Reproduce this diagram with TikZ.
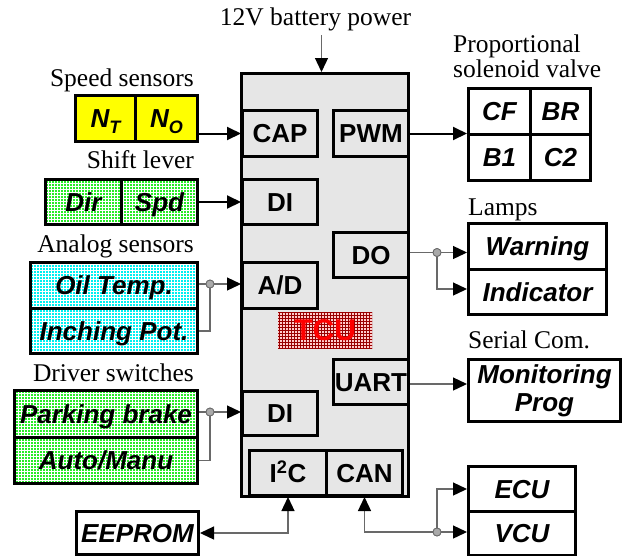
\documentclass[tikz,border=0pt]{standalone}
\usepackage{fontspec}
\setmainfont{Liberation Serif}
\setsansfont{Liberation Sans}
\usetikzlibrary{arrows.meta,patterns}
\definecolor{tcugray}{RGB}{230,230,230}
\definecolor{grn}{RGB}{40,235,40}
\definecolor{cyn}{RGB}{0,240,240}
\definecolor{yel}{RGB}{255,255,0}
\definecolor{lgray}{RGB}{105,105,105}
\definecolor{dotgray}{RGB}{170,170,170}
\begin{document}
\begin{tikzpicture}[x=1pt,y=-1pt,
  blk/.style={draw, line width=3pt, inner sep=0pt, anchor=north west, align=center,
    text height=18.7pt, text depth=0pt,
    font=\sffamily\bfseries\fontsize{26}{28}\selectfont},
  ext/.style={blk, font=\sffamily\bfseries\itshape\fontsize{26}{28}\selectfont},
  wbox/.style={ext, fill=white},
  intb/.style={blk, fill=tcugray},
  wh/.style 2 args={minimum width=#1pt, minimum height=#2pt},
  gpat/.style={preaction={fill=grn}, pattern=grid, pattern color=white},
  cpat/.style={preaction={fill=cyn}, pattern=grid, pattern color=white},
  lbl/.style={inner sep=0pt, font=\rmfamily\fontsize{25.5}{28}\selectfont},
  barrow/.style={draw=black, line width=2pt, -{Triangle[length=14pt,width=13pt,color=black]}},
  garrow/.style={draw=lgray, line width=1.3pt, -{Triangle[length=14pt,width=13pt,color=black]}},
  gline/.style={draw=lgray, line width=1.3pt},
  jdot/.style={circle, fill=dotgray, draw=lgray, line width=0.8pt, inner sep=0pt, minimum size=8pt}
]
\useasboundingbox (0,0) rectangle (626,555);

% TCU
\node[blk, fill=tcugray, wh={167}{423}] (tcu) at (240,72) {};
\node[intb, wh={75}{46}] (cap) at (241,109) {CAP};
\node[intb, wh={75}{46}] (pwm) at (332,109) {PWM};
\node[intb, wh={75}{45}] (di1) at (241,178) {DI};
\node[intb, wh={75}{45}] (do) at (332,231) {DO};
\node[intb, wh={75}{46}] (ad) at (241,261) {A/D};
\node[intb, wh={75}{45}] (uart) at (332,358) {UART};
\node[intb, wh={75}{44}] (di2) at (241,390) {DI};
\node[intb, wh={77}{45}] (i2c) at (248,449) {I\textsuperscript{2}C};
\node[intb, wh={76}{45}] (can) at (325,449) {CAN};
\node[anchor=north west, inner sep=0pt, wh={94}{36}, preaction={fill=red!20}, pattern=grid,
  pattern color=red!60!black, text=red, text height=21.5pt, text depth=0pt,
  font=\sffamily\bfseries\fontsize{30}{30}\selectfont]
  (tculbl) at (278,312) {TCU};

% battery
\node[lbl, anchor=base] (batt) at (315.5,25) {12V battery power};
\coordinate (pw) at (321.5,35);
\draw[garrow] (pw) -- (pw |- tcu.north);

% speed sensors
\node[lbl, anchor=base east] (lspd) at (194,86) {Speed sensors};
\node[ext, fill=yel, wh={60}{46}] (nt) at (74,94) {N\raisebox{-6pt}{\fontsize{18}{18}\selectfont T}};
\node[ext, fill=yel, wh={62}{46}] (no) at (134,94) {N\raisebox{-6pt}{\fontsize{18}{18}\selectfont O}};
\draw[barrow] (no.east |- cap.west) -- (cap.west);

% shift lever
\node[lbl, anchor=base east] (lshift) at (194,168) {Shift lever};
\node[ext, gpat, wh={76}{45}] (dir) at (44,178) {Dir};
\node[ext, gpat, wh={76}{45}] (spd) at (120,178) {Spd};
\draw[barrow] (spd.east |- di1.west) -- (di1.west);

% analog sensors
\node[lbl, anchor=base east] (lana) at (194,252.5) {Analog sensors};
\node[ext, cpat, wh={167}{46}] (oil) at (29,261) {Oil Temp.};
\node[ext, cpat, wh={167}{45}] (inch) at (29,307) {Inching Pot.};
\node[jdot] (d1) at (210,284) {};
\draw[gline] (oil.east |- d1) -- (d1);
\draw[garrow] (d1) -- (d1 -| ad.west);
\draw[gline] (inch.east) -| (d1);

% driver switches
\node[lbl, anchor=base east] (ldrv) at (194,381) {Driver switches};
\node[ext, gpat, wh={183}{47}] (park) at (13,389) {Parking brake};
\node[ext, gpat, wh={183}{46}] (auto) at (13,436) {Auto/Manu};
\node[jdot] (d2) at (210,412) {};
\draw[gline] (park.east |- d2) -- (d2);
\draw[garrow] (d2) -- (d2 -| di2.west);
\draw[gline] (auto.east) -| (d2);

% EEPROM
\node[wbox, wh={122}{43}] (eep) at (75,510) {EEPROM};
\draw[draw=lgray, line width=1.3pt, {Triangle[length=14pt,width=13pt,color=black]}-{Triangle[length=14pt,width=13pt,color=black]}]
  (i2c.south) |- (eep.east);

% solenoid valve
\node[lbl, anchor=base west] (lsol1) at (453,52) {Proportional};
\node[lbl, anchor=base west] (lsol2) at (453,77.5) {solenoid valve};
\node[wbox, wh={62}{46}] (cf) at (467,87) {CF};
\node[wbox, wh={60}{46}] (br) at (529,87) {BR};
\node[wbox, wh={62}{46}] (b1) at (467,133) {B1};
\node[wbox, wh={60}{46}] (c2) at (529,133) {C2};
\draw[barrow] (pwm.east) -- (pwm.east -| cf.west);

% lamps
\node[lbl, anchor=base west] (llamp) at (468,215) {Lamps};
\node[wbox, wh={138}{46}] (warn) at (467,222) {Warning};
\node[wbox, wh={138}{45}] (ind) at (467,268) {Indicator};
\node[jdot] (d3) at (437,252.5) {};
\draw[gline] (do.east |- d3) -- (d3);
\draw[garrow] (d3) -- (d3 -| warn.west);
\coordinate (d3b) at (437,289);
\draw[garrow] (d3) |- (d3b -| ind.west);

% serial
\node[lbl, anchor=base west] (lser) at (468,348.5) {Serial Com.};
\node[draw, line width=3pt, fill=white, inner sep=0pt, anchor=north west, wh={152}{62}] (mon) at (467,358) {};
\node[inner sep=0pt, align=center, font=\sffamily\bfseries\itshape\fontsize{26}{28}\selectfont]
  (montxt) at (mon.center) {Monitoring\\Prog};
\draw[garrow] (uart.east) ++(0,2) coordinate (u2) -- (u2 -| mon.west);

% ECU/VCU
\node[wbox, wh={107}{45}] (ecu) at (467,465) {ECU};
\node[wbox, wh={107}{44}] (vcu) at (467,510) {VCU};
\node[jdot] (d4) at (437,532) {};
\draw[draw=lgray, line width=1.3pt, {Triangle[length=14pt,width=13pt,color=black]}-]
  (can.south) |- (d4);
\draw[garrow] (d4) -- (d4 -| vcu.west);
\draw[garrow] (d4) |- (ecu.west);
\node[jdot] at (d4) {};
\node[jdot] at (d3) {};
\node[jdot] at (d2) {};
\node[jdot] at (d1) {};
\end{tikzpicture}
\end{document}
